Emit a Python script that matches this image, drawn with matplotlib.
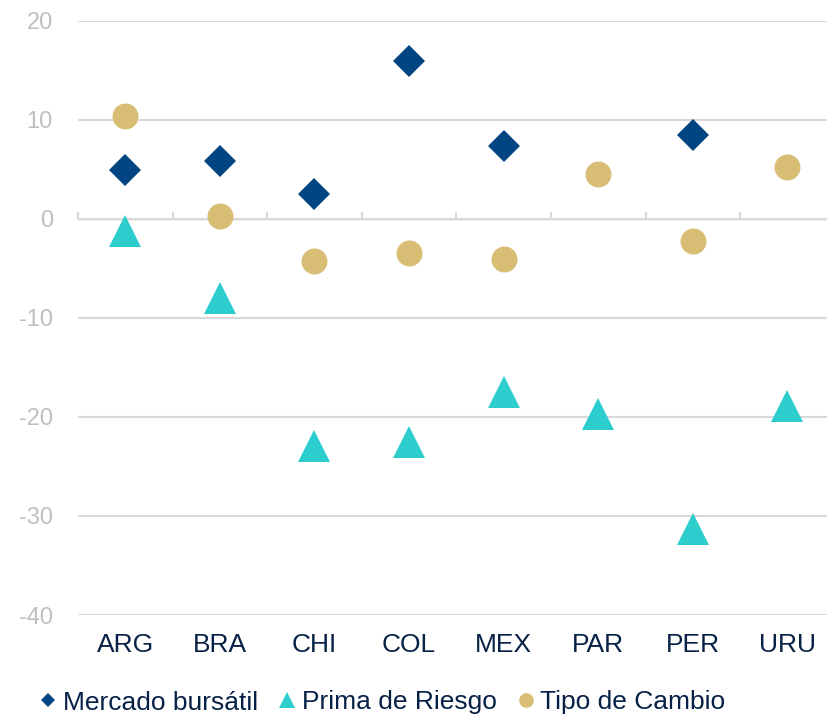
import matplotlib
matplotlib.use("Agg")
import matplotlib.pyplot as plt
from matplotlib.lines import Line2D
import numpy as np

categories = ["ARG", "BRA", "CHI", "COL", "MEX", "PAR", "PER", "URU"]
mercado_bursatil = [4.9, 5.8, 2.5, 15.9, 7.3, np.nan, 8.5, np.nan]
prima_riesgo = [-1.2, -8.0, -22.9, -22.5, -17.5, -19.7, -31.3, -18.9]
tipo_cambio = [10.4, 0.3, -4.3, -3.5, -4.1, 4.5, -2.2, 5.2]
yticks = [-40, -30, -20, -10, 0, 10, 20]

C_MB = "#004481"
C_PR = "#2DCCCD"
C_TC = "#D8BE75"
C_GRID = "#D9D9D9"
C_XLAB = "#072146"
C_YLAB = "#BFBFBF"

plt.rcParams["font.family"] = ["Liberation Sans", "DejaVu Sans"]

W, H = 827, 716
fig = plt.figure(figsize=(W / 100, H / 100), dpi=100)
left = 78 / W
right = 834.7 / W
bottom = 1 - 615 / H
top = 1 - 20.7 / H
ax = fig.add_axes([left, bottom, right - left, top - bottom])

x = np.arange(len(categories))
ax.set_xlim(-0.5, len(categories) - 0.5)
ax.set_ylim(-40, 20)

for s in ax.spines.values():
    s.set_visible(False)

ax.set_yticks(yticks)
ax.set_yticklabels([str(v) for v in yticks])
ax.tick_params(axis="y", length=0, pad=18, labelsize=17, labelcolor=C_YLAB)
for v in yticks:
    ax.axhline(v, color=C_GRID, lw=1.5, zorder=1)

ax.set_xticks(x)
ax.set_xticklabels(categories)
ax.tick_params(axis="x", length=0, pad=13, labelsize=19, labelcolor=C_XLAB)

# category boundary ticks on the zero line
sec = ax.secondary_xaxis(2 / 3)
sec.spines["bottom"].set_visible(False)
sec.set_xticks(np.arange(len(categories) + 1) - 0.5)
sec.set_xticklabels([])
sec.tick_params(axis="x", direction="out", length=5.3, width=1.5, color=C_GRID)

ax.plot(x, mercado_bursatil, linestyle="none", marker="D", ms=16.2, color=C_MB, mew=0, zorder=3)
ax.plot(x, prima_riesgo, linestyle="none", marker="^", ms=22.8, color=C_PR, mew=0, zorder=3)
ax.plot(x, tipo_cambio, linestyle="none", marker="o", ms=18.7, color=C_TC, mew=0, zorder=3)

handles = [
    Line2D([], [], linestyle="none", marker="D", ms=7.6, color=C_MB, mew=0),
    Line2D([], [], linestyle="none", marker="^", ms=11.5, color=C_PR, mew=0),
    Line2D([], [], linestyle="none", marker="o", ms=10.5, color=C_TC, mew=0),
]
labels = ["Mercado bursátil", "Prima de Riesgo", "Tipo de Cambio"]
leg = fig.legend(handles, labels, loc="center left",
                 bbox_to_anchor=(40 / W, 1 - 702.5 / H), ncol=3, frameon=False,
                 fontsize=19, handlelength=0.6, handletextpad=0.26,
                 columnspacing=0.8, borderpad=0, borderaxespad=0)
for t in leg.get_texts():
    t.set_color(C_XLAB)

fig.savefig("out.png", dpi=100)
